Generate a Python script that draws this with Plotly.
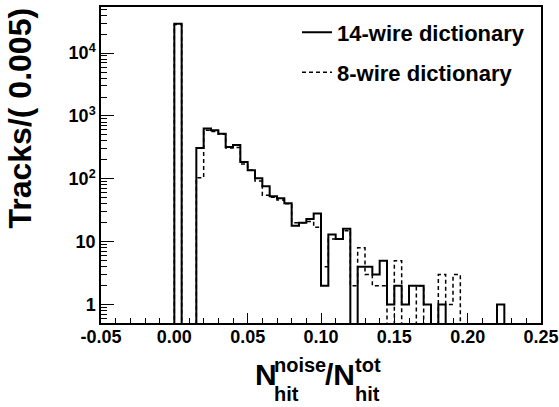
import plotly.graph_objects as go

# ---- data ----
BIN_START = -0.05
BIN_WIDTH = 0.005
N_BINS = 60

wire14 = [0, 0, 0, 0, 0, 0, 0, 0, 0, 0,
          29300, 0, 0, 309, 630, 590, 520, 320, 345, 185,
          137, 102, 76, 53, 49, 41, 18, 20, 23, 28,
          2, 13, 11, 16, 0, 4, 4, 3, 5, 1,
          2, 1, 2, 2, 1, 0, 1, 0, 0, 0,
          0, 0, 0, 0, 1, 0, 0, 0, 0, 0]

wire8 = [0, 0, 0, 0, 0, 0, 0, 0, 0, 0,
         28500, 0, 0, 104, 595, 565, 510, 310, 315, 172,
         137, 92, 55, 51, 46, 40, 20, 20, 21, 17,
         4, 11, 11, 15, 2, 8, 3, 2, 2, 0,
         5, 0, 0, 2, 0, 0, 3, 1, 3, 0,
         0, 0, 0, 0, 0, 0, 0, 0, 0, 0]

series_names = ["14-wire dictionary", "8-wire dictionary"]
x_tickvals = [-0.05, 0.0, 0.05, 0.10, 0.15, 0.20, 0.25]
x_ticktext = ["-0.05", "0.00", "0.05", "0.10", "0.15", "0.20", "0.25"]
y_tickvals = [1, 10, 100, 1000, 10000]
y_ticktext = ["1", "10", "10<sup>2</sup>", "10<sup>3</sup>", "10<sup>4</sup>"]

# ---- layout geometry ----
W, H = 559, 407
ML, MR, MT, MB = 101, 18, 7, 84
PW, PH = W - ML - MR, H - MT - MB
FLOOR = 0.3  # zero bins drawn below the axis floor (log axis)
FONT = "Liberation Sans, Arial, Helvetica, sans-serif"


def px(xp):
    return (xp - ML) / PW


def py(yp):
    return (H - MB - yp) / PH


edges = [BIN_START + BIN_WIDTH * i for i in range(N_BINS + 1)]


def step(counts):
    ys = [c if c > 0 else FLOOR for c in counts]
    return edges, ys + [ys[-1]]


fig = go.Figure()
x1, y1 = step(wire14)
fig.add_trace(go.Scatter(x=x1, y=y1, mode="lines", line_shape="hv",
                         line=dict(color="black", width=2),
                         name=series_names[0], legend="legend"))
x2, y2 = step(wire8)
fig.add_trace(go.Scatter(x=x2, y=y2, mode="lines", line_shape="hv",
                         line=dict(color="black", width=1.5, dash="4px,3px"),
                         name=series_names[1], legend="legend2"))

leg_common = dict(font=dict(family=FONT, size=22, color="black", weight="bold"),
                  bgcolor="rgba(0,0,0,0)", borderwidth=0,
                  xanchor="left", yanchor="top")

axis_font = dict(family=FONT, size=18, color="black", weight="bold")

fig.update_layout(
    template="none",
    width=W, height=H,
    margin=dict(l=ML, r=MR, t=MT, b=MB, autoexpand=False),
    paper_bgcolor="white", plot_bgcolor="white",
    font=dict(family=FONT, color="black"),
    showlegend=True,
    legend=dict(x=px(297), y=py(11.5), **leg_common),
    legend2=dict(x=px(297), y=py(51.5), **leg_common),
    xaxis=dict(range=[-0.05, 0.25], tickvals=x_tickvals, ticktext=x_ticktext,
               automargin=False, ticklabelstandoff=-3,
               ticks="inside", ticklen=10, tickwidth=1, tickcolor="black",
               minor=dict(dtick=0.01, tick0=0, ticks="inside", ticklen=5,
                          tickcolor="black", tickwidth=1),
               showline=True, linecolor="black", linewidth=1.5, mirror=True,
               showgrid=False, zeroline=False, tickfont=axis_font),
    yaxis=dict(type="log", range=[-0.293, 4.733],
               tickvals=y_tickvals, ticktext=y_ticktext,
               automargin=False,
               ticks="inside", ticklen=13, tickwidth=1, tickcolor="black",
               minor=dict(dtick="D1", ticks="inside", ticklen=6,
                          tickcolor="black", tickwidth=1),
               showline=True, linecolor="black", linewidth=1.5, mirror=True,
               showgrid=False, zeroline=False, tickfont=axis_font),
)

ann = []
# y-axis title
ann.append(dict(text="Tracks/( 0.005)", textangle=-90, x=px(19), y=py(7),
                xref="paper", yref="paper", xanchor="center", yanchor="top",
                showarrow=False, borderpad=0,
                font=dict(family=FONT, size=32, color="black", weight="bold")))


def label(text, left, baseline, size):
    ann.append(dict(text=text, x=px(left), y=py(baseline - 0.32 * size),
                    xref="paper", yref="paper", xanchor="left", yanchor="middle",
                    showarrow=False, borderpad=0,
                    font=dict(family=FONT, size=size, color="black", weight="bold")))


# x-axis title: N_hit^noise / N_hit^tot
label("N", 254, 383.7, 30)
label("noise", 273, 371, 20)
label("hit", 273, 400.5, 20)
label("/N", 324, 383.7, 30)
label("tot", 354, 371, 20)
label("hit", 354, 400.5, 20)

fig.update_layout(annotations=ann)
fig.write_html("out.html", config={"displayModeBar": False},
               post_script="document.body.style.margin='0px';")
